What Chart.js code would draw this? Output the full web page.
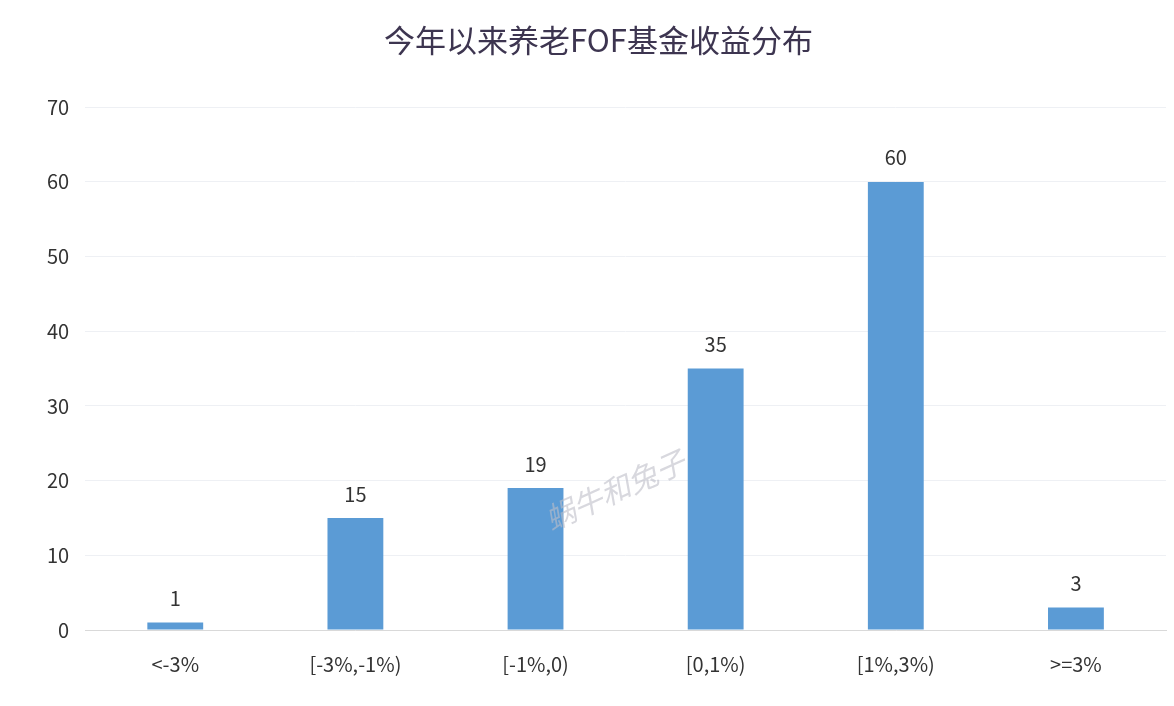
<!DOCTYPE html>
<html><head><meta charset="utf-8">
<script src="https://cdn.jsdelivr.net/npm/chart.js@4"></script>
<style>html,body{margin:0;padding:0;background:#fff}#w{width:1174px;height:706px;position:relative}</style>
</head><body><div id="w"><canvas id="c" width="1174" height="706"></canvas></div>
<script>
const categories = ["<-3%", "[-3%,-1%)", "[-1%,0)", "[0,1%)", "[1%,3%)", ">=3%"];
const values = [1, 15, 19, 35, 60, 3];
const yTicks = [0, 10, 20, 30, 40, 50, 60, 70];
const titleText = "今年以来养老FOF基金收益分布";
const watermark = "蜗牛和兔子";
const font = "'Noto Sans CJK SC', 'Open Sans', sans-serif";

const labelPlugin = {
  id: 'lbl',
  afterDatasetsDraw(chart) {
    const ctx = chart.ctx;
    const meta = chart.getDatasetMeta(0);
    ctx.save();
    ctx.fillStyle = '#333';
    ctx.font = "20px " + font;
    ctx.textAlign = 'center';
    ctx.textBaseline = 'bottom';
    meta.data.forEach((b, i) => ctx.fillText(String(values[i]), b.x, b.y - 14));
    ctx.translate(615, 490);
    ctx.rotate(-0.42);
    ctx.fillStyle = 'rgba(190,190,200,0.6)';
    ctx.font = "italic 30px " + font;
    ctx.textAlign = 'center';
    ctx.textBaseline = 'middle';
    ctx.fillText(watermark, 0, 0);
    ctx.restore();
  }
};

new Chart(document.getElementById('c'), {
  type: 'bar',
  data: { labels: categories, datasets: [{ data: values, backgroundColor: '#5b9bd5', barPercentage: 0.31, categoryPercentage: 1 }] },
  options: {
    responsive: false, animation: false,
    layout: { padding: { left: 31, right: 8, top: 0, bottom: 16 } },
    plugins: {
      legend: { display: false }, tooltip: { enabled: false },
      title: { display: true, text: titleText, color: '#3d3550', font: { family: font, size: 31, weight: 'normal' }, padding: { top: 22, bottom: 48 } }
    },
    scales: {
      x: { grid: { display: false }, border: { color: '#d9d9d9' },
           ticks: { color: '#333', font: { family: font, size: 20 }, padding: 14 } },
      y: { min: 0, max: 70, afterBuildTicks: s => { s.ticks = yTicks.map(v => ({ value: v })); },
           grid: { color: '#eef0f4', drawTicks: false }, border: { display: false },
           ticks: { color: '#333', font: { family: font, size: 20 }, padding: 16 } }
    }
  },
  plugins: [labelPlugin]
});
</script></body></html>
